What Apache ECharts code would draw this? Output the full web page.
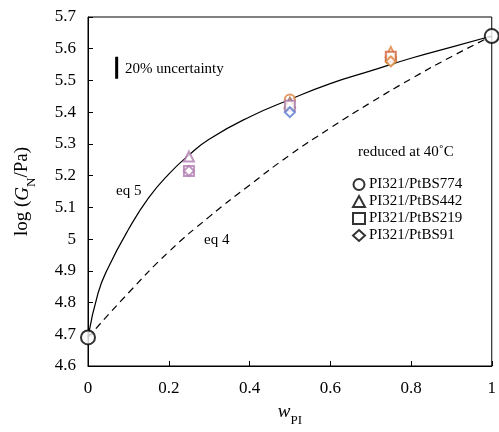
<!DOCTYPE html>
<html lang="en">
<head>
    <meta charset="UTF-8">
    <title>log GN vs wPI</title>
    <style type="text/css">
        html, body { margin: 0; padding: 0; background: #fff; }
        #chart { width: 499px; height: 432px; }
    </style>
</head>
<body>
<div id="chart"></div>
<script src="https://cdn.jsdelivr.net/npm/echarts@6/dist/echarts.min.js"></script>
<script type="text/javascript">
    // eq 5 (solid)
    var eq5W = [0, 0.025, 0.05, 0.1, 0.15, 0.2, 0.25, 0.3, 0.4, 0.5, 0.6, 0.7, 0.8, 0.9, 1.0];
    var eq5G = [4.69, 4.83, 4.91, 5.03, 5.13, 5.205, 5.265, 5.315, 5.385, 5.44, 5.49, 5.53, 5.57, 5.605, 5.64];
    // eq 4 (dashed)
    var eq4W = [0, 0.1, 0.2, 0.3, 0.4, 0.5, 0.6, 0.7, 0.8, 0.9, 1.0];
    var eq4G = [4.69, 4.83, 4.96, 5.07, 5.17, 5.265, 5.35, 5.43, 5.505, 5.575, 5.64];

    // pure components
    var pureW = [0, 1];
    var pureG = [4.69, 5.64];

    // blends
    var s774W = [0.5, 0.75];
    var s774G = [5.44, 5.565];
    var s774C = ['#e0803a', '#6aa84f'];
    var s442W = [0.25, 0.5, 0.75];
    var s442G = [5.26, 5.43, 5.59];
    var s442C = ['#b07cb0', '#9a6a5a', '#e0803a'];
    var s219W = [0.25, 0.5, 0.75];
    var s219G = [5.215, 5.42, 5.575];
    var s219C = ['#b07cb0', '#a878a8', '#d0603c'];
    var s91W = [0.25, 0.5, 0.75];
    var s91G = [5.215, 5.40, 5.56];
    var s91C = ['#b07cb0', '#5a7ad0', '#e0803a'];

    // 20% uncertainty bar
    var barW = [0.071, 0.071];
    var barG = [5.505, 5.575];

    var legendNames = ['PI321/PtBS774', 'PI321/PtBS442', 'PI321/PtBS219', 'PI321/PtBS91'];

    var serif = '"Liberation Serif", "DejaVu Serif", serif';

    function pairs(xs, ys) {
        return xs.map(function (x, i) { return [x, ys[i]]; });
    }
    function colored(xs, ys, cs) {
        return xs.map(function (x, i) {
            return { value: [x, ys[i]], itemStyle: { color: cs[i], borderColor: cs[i] } };
        });
    }

    var chart = echarts.init(document.getElementById('chart'));

    var scatterBase = {
        type: 'scatter',
        symbolSize: 10,
        itemStyle: { color: '#000', borderWidth: 1 },
        z: 5
    };

    var option = {
        animation: false,
        backgroundColor: '#fff',
        grid: {
            left: 88, right: 2, top: 17, bottom: 58,
            show: true, borderColor: '#000', borderWidth: 1
        },
        xAxis: {
            type: 'value', min: 0, max: 1, interval: 0.2,
            axisLine: { lineStyle: { color: '#000' } },
            axisTick: { inside: true, length: 5, lineStyle: { color: '#000' } },
            axisLabel: {
                color: '#000', fontFamily: serif, fontSize: 17, margin: 14,
                formatter: function (v) { return String(+v.toFixed(1)); }
            },
            splitLine: { show: false },
            name: '{w|w}{s|PI}',
            nameLocation: 'middle',
            nameGap: 36,
            nameTextStyle: {
                rich: {
                    w: { fontFamily: serif, fontSize: 19, fontStyle: 'italic', color: '#000' },
                    s: { fontFamily: serif, fontSize: 13, color: '#000', verticalAlign: 'bottom', padding: [0, 0, -6, 0] }
                }
            }
        },
        yAxis: {
            type: 'value', min: 4.6, max: 5.7, interval: 0.1,
            axisLine: { show: true, lineStyle: { color: '#000' } },
            axisTick: { show: true, inside: true, length: 5, lineStyle: { color: '#000' } },
            axisLabel: {
                color: '#000', fontFamily: serif, fontSize: 17, margin: 12,
                formatter: function (v) { return String(+v.toFixed(1)); }
            },
            splitLine: { show: false },
            name: '{n|log (}{g|G}{s|N}{n|/Pa)}',
            nameLocation: 'middle',
            nameRotate: 90,
            nameGap: 56,
            nameTextStyle: {
                rich: {
                    n: { fontFamily: serif, fontSize: 19, color: '#000' },
                    g: { fontFamily: serif, fontSize: 19, fontStyle: 'italic', color: '#000' },
                    s: { fontFamily: serif, fontSize: 13, color: '#000', verticalAlign: 'bottom', padding: [0, 0, -6, 0] }
                }
            }
        },
        legend: {
            orient: 'vertical',
            left: 347, top: 172,
            itemWidth: 12, itemHeight: 11, itemGap: 2,
            itemStyle: { borderWidth: 1.2 },
            textStyle: { fontFamily: serif, fontSize: 15, lineHeight: 14, color: '#000', padding: [0, 0, 0, -1] },
            data: [
                { name: legendNames[0], icon: 'emptyCircle' },
                { name: legendNames[1], icon: 'emptyTriangle' },
                { name: legendNames[2], icon: 'emptyRect' },
                { name: legendNames[3], icon: 'emptyDiamond' }
            ]
        },
        graphic: [
            { type: 'text', left: 358, top: 145, style: { text: 'reduced at 40\u02DAC', font: '15px ' + serif, fill: '#000' } },
            { type: 'text', left: 125, top: 62, style: { text: '20% uncertainty', font: '15px ' + serif, fill: '#000' } },
            { type: 'text', left: 116, top: 184, style: { text: 'eq 5', font: '15px ' + serif, fill: '#000' } },
            { type: 'text', left: 204, top: 233, style: { text: 'eq 4', font: '15px ' + serif, fill: '#000' } }
        ],
        series: [
            {
                name: 'eq 5', type: 'line', data: pairs(eq5W, eq5G), smooth: 0.5,
                symbol: 'none', lineStyle: { color: '#000', width: 1.2 }, z: 3
            },
            {
                name: 'eq 4', type: 'line', data: pairs(eq4W, eq4G), smooth: 0.5,
                symbol: 'none', lineStyle: { color: '#000', width: 1.2, type: [7, 5] }, z: 3
            },
            {
                name: 'bar', type: 'line', data: pairs(barW, barG),
                symbol: 'none', lineStyle: { color: '#000', width: 3 }, z: 3
            },
            Object.assign({}, scatterBase, {
                name: 'pure', symbol: 'emptyCircle', symbolSize: 14,
                data: pairs(pureW, pureG), clip: false
            }),
            Object.assign({}, scatterBase, {
                name: legendNames[0], symbol: 'emptyCircle', data: colored(s774W, s774G, s774C)
            }),
            Object.assign({}, scatterBase, {
                name: legendNames[1], symbol: 'emptyTriangle', data: colored(s442W, s442G, s442C)
            }),
            Object.assign({}, scatterBase, {
                name: legendNames[2], symbol: 'emptyRect', data: colored(s219W, s219G, s219C)
            }),
            Object.assign({}, scatterBase, {
                name: legendNames[3], symbol: 'emptyDiamond', data: colored(s91W, s91G, s91C)
            })
        ]
    };

    chart.setOption(option);
</script>
</body>
</html>
